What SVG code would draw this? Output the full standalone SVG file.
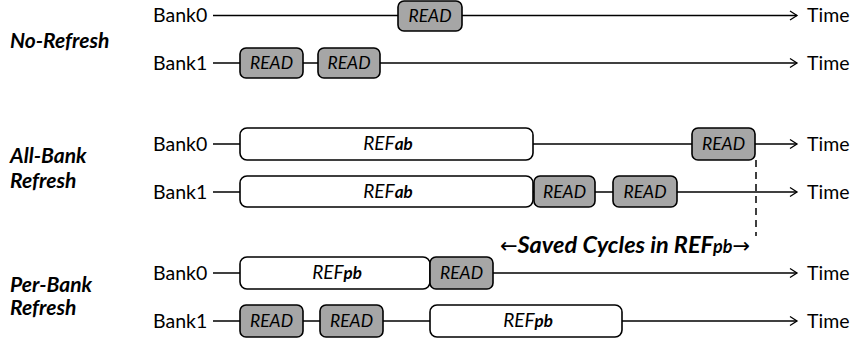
<svg xmlns="http://www.w3.org/2000/svg" width="856" height="344" viewBox="0 0 856 344">
<defs>
<marker id="arr" markerWidth="12" markerHeight="12" refX="10" refY="6" orient="auto" markerUnits="userSpaceOnUse">
<path d="M3,1.5 L10,6 L3,10.5" fill="none" stroke="#000" stroke-width="1.3"/>
</marker>
<style>
.t{font-family:Lato,"Liberation Sans",sans-serif;font-size:19.5px;fill:#000}
.h{font-family:Lato,"Liberation Sans",sans-serif;font-size:21px;font-weight:bold;font-style:italic;fill:#000}
.r{font-family:Lato,"Liberation Sans",sans-serif;font-size:17.5px;font-style:italic;fill:#000;text-anchor:middle}
.f{font-size:19px}
.b{font-weight:bold;font-size:17px}
.ln{stroke:#000;stroke-width:1.5;fill:none}
.rd{fill:#a6a6a6;stroke:#000;stroke-width:1.6}
.rf{fill:#fff;stroke:#000;stroke-width:1.6}
.ar{font-weight:normal;font-style:normal;font-family:"DejaVu Sans",sans-serif;font-size:21px}
</style>
</defs>
<rect width="856" height="344" fill="#fff"/>
<g id="connectors">
<line class="ln" x1="213" y1="15.5" x2="797" y2="15.5" marker-end="url(#arr)"/>
<line class="ln" x1="213" y1="63" x2="797" y2="63" marker-end="url(#arr)"/>
<line class="ln" x1="213" y1="144" x2="797" y2="144" marker-end="url(#arr)"/>
<line class="ln" x1="213" y1="192" x2="797" y2="192" marker-end="url(#arr)"/>
<line class="ln" x1="213" y1="273" x2="797" y2="273" marker-end="url(#arr)"/>
<line class="ln" x1="213" y1="321" x2="797" y2="321" marker-end="url(#arr)"/>
<line class="ln" x1="756" y1="160" x2="756" y2="236" stroke-dasharray="7,5"/>
</g>
<g id="labels">
<text class="h" x="10" y="48">No-Refresh</text>
<text class="h" x="10" y="163">All-Bank</text>
<text class="h" x="10" y="188">Refresh</text>
<text class="h" x="10" y="292">Per-Bank</text>
<text class="h" x="10" y="315">Refresh</text>
<text class="t" x="153" y="22">Bank0</text>
<text class="t" x="153" y="70">Bank1</text>
<text class="t" x="153" y="151">Bank0</text>
<text class="t" x="153" y="199">Bank1</text>
<text class="t" x="153" y="280">Bank0</text>
<text class="t" x="153" y="328">Bank1</text>
<text class="t" x="807" y="22">Time</text>
<text class="t" x="807" y="70">Time</text>
<text class="t" x="807" y="151">Time</text>
<text class="t" x="807" y="199">Time</text>
<text class="t" x="807" y="280">Time</text>
<text class="t" x="807" y="328">Time</text>
<text x="625" y="253" text-anchor="middle" style="font-family:Lato,'DejaVu Sans',sans-serif;font-size:23.5px;font-weight:bold;font-style:italic"><tspan class="ar">←</tspan>Saved Cycles in REF<tspan style="font-size:18px">pb</tspan><tspan class="ar">→</tspan></text>
</g>
<g id="nr-b0-read"><rect class="rd" x="398" y="1" width="64" height="30" rx="6"/><text class="r" x="430" y="22">READ</text></g>
<g id="nr-b1-read1"><rect class="rd" x="240" y="48" width="63" height="30" rx="6"/><text class="r" x="271.5" y="69">READ</text></g>
<g id="nr-b1-read2"><rect class="rd" x="318" y="48" width="62" height="30" rx="6"/><text class="r" x="349" y="69">READ</text></g>
<g id="ab-b0-ref"><rect class="rf" x="240" y="128" width="293" height="32" rx="7"/><text class="r f" x="388" y="150">REF<tspan class="b">ab</tspan></text></g>
<g id="ab-b0-read"><rect class="rd" x="692" y="128" width="63" height="32" rx="6"/><text class="r" x="723.5" y="150">READ</text></g>
<g id="ab-b1-ref"><rect class="rf" x="240" y="176" width="293" height="31" rx="7"/><text class="r f" x="388" y="198">REF<tspan class="b">ab</tspan></text></g>
<g id="ab-b1-read1"><rect class="rd" x="534" y="176" width="61" height="31" rx="6"/><text class="r" x="564.5" y="198">READ</text></g>
<g id="ab-b1-read2"><rect class="rd" x="613" y="176" width="64" height="31" rx="6"/><text class="r" x="645" y="198">READ</text></g>
<g id="pb-b0-ref"><rect class="rf" x="240" y="257" width="190" height="32" rx="7"/><text class="r f" x="337" y="279">REF<tspan class="b">pb</tspan></text></g>
<g id="pb-b0-read"><rect class="rd" x="430" y="257" width="63" height="32" rx="6"/><text class="r" x="461.5" y="279">READ</text></g>
<g id="pb-b1-read1"><rect class="rd" x="240" y="305" width="63" height="32" rx="6"/><text class="r" x="271.5" y="327">READ</text></g>
<g id="pb-b1-read2"><rect class="rd" x="320" y="305" width="63" height="32" rx="6"/><text class="r" x="351.5" y="327">READ</text></g>
<g id="pb-b1-ref"><rect class="rf" x="430" y="305" width="192" height="32" rx="7"/><text class="r f" x="528" y="327">REF<tspan class="b">pb</tspan></text></g>
</svg>
